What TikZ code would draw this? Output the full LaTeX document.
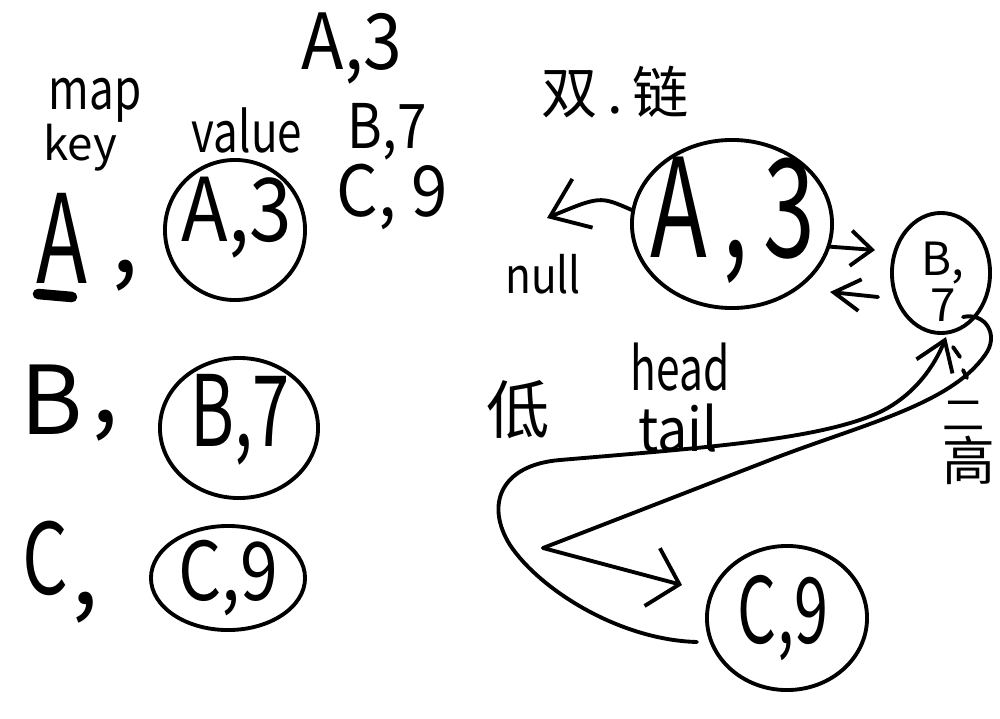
\documentclass[tikz,border=0pt]{standalone}
\usepackage{fontspec}
\setmainfont{Noto Sans CJK SC}
\usetikzlibrary{shapes.geometric,arrows.meta}
\newcommand\fsz[1]{\fontsize{#1}{#1}\selectfont}
\newcommand\sx[2]{\scalebox{#1}[1]{#2}}
\begin{document}
\begin{tikzpicture}[x=0.01cm,y=-0.01cm,line width=1.1pt,line cap=round,line join=round,
  t/.style={inner sep=0pt,font=\fsz{#1}},
  ring/.style={ellipse,draw,inner sep=0pt},
  barb/.style args={#1/#2}{-{Straight Barb[length=#1,width=#2]}}]
\useasboundingbox (0,0) rectangle (1000,718);
\fill[white] (0,0) rectangle (1000,718);

% ---------- left: map key / value ----------
\node[t=16] (map) at (95,100) {\sx{0.78}{map}};
\node[t=13] (key) at (80,148) {key};
\node[t=16] (value) at (247,130) {\sx{0.78}{value}};
\node[t=22] (top1) at (352,48) {\sx{0.9}{A,3}};
\node[t=17.5] (top2) at (387,132) {\sx{0.86}{B,7}};
\node[t=20] (top3) at (392,197) {\sx{0.93}{C, 9}};

\node[t=35] (kA) at (62,238) {\sx{0.68}{A}};
\draw[line width=3pt] (38,294) -- (72,297);
\node[t=28] (cA) at (125,276) {,};
\node[ring,minimum width=1.4cm,minimum height=1.4cm] (vA) at (235,230) {};
\node[t=25] (vAt) at (237,218) {\sx{0.87}{A,3}};

\node[t=27] (kB) at (52,400) {B};
\node[t=28] (cB) at (105,426) {,};
\node[ring,minimum width=1.58cm,minimum height=1.4cm] (vB) at (239,428) {};
\node[t=28] (vBt) at (240,420) {\sx{0.68}{B,7}};

\node[t=28] (kC) at (45,558) {\sx{0.73}{C}};
\node[t=28] (cC) at (85,608) {,};
\node[ring,minimum width=1.54cm,minimum height=1.04cm] (vC) at (228,578) {};
\node[t=23] (vCt) at (228,578) {\sx{0.84}{C,9}};

% ---------- right: double linked list ----------
\node[t=16] (dl) at (615,92) {双\,.\,链};

\node[ring,minimum width=2cm,minimum height=1.68cm] (rA) at (732,224) {};
\node[t=39] (rAt) at (733,220) {\sx{0.68}{A\,,\,3}};
\coordinate (nulltip) at (547,218);
\draw[barb=10pt/15pt] (rA.172) .. controls (600,196) .. (nulltip);
\node[t=14] (null) at (543,274) {\sx{0.86}{null}};

\node[ring,minimum width=0.98cm,minimum height=1.2cm] (rB) at (941,273) {};
\node[t=13,align=center] (rBt) at (943,282) {B,\\7};
\coordinate (abtip) at (875,250);
\draw[barb=6pt/10pt] (rA.-13) -- (abtip);
\coordinate (bastart) at (878,297);
\coordinate (batip) at (830,292);
\draw[barb=7.5pt/9pt] (bastart) -- (batip);

\node[ring,minimum width=1.6cm,minimum height=1.44cm] (rC) at (787,618) {};
\node[t=26] (rCt) at (783,618) {\sx{0.67}{C,9}};

\node[t=17] (head) at (680,367) {\sx{0.71}{head}};
\node[t=17] (tail) at (678,428) {\sx{0.9}{tail}};
\node[t=18] (low) at (518,410) {低};

% vertical note by B
\draw (953,347) -- (960,357);
\draw (963,370) -- (967,378);
\node[t=12] (two) at (964,416) {二};
\node[t=15] (high) at (969,460) {高};

% loop from C back to B
\coordinate (loopstart) at (697,642);
\coordinate (btip) at (946,337);
\draw[barb=8pt/11pt] (loopstart) .. controls (620,640) and (540,590) .. (510,545)
  .. controls (485,505) and (500,465) .. (560,460)
  .. controls (700,448) and (820,440) .. (880,412)
  .. controls (915,395) and (935,365) .. (btip);

% vertex: B down to corner, then to C
\coordinate (vx) at (543,548);
\coordinate (curl) at (963,317);
\draw (curl) .. controls (985,312) and (1000,335) .. (985,355)
  .. controls (950,405) and (860,425) .. (770,460) -- (vx);
\coordinate (ctip) at (682,585);
\draw[barb=8pt/17pt] (vx) -- (ctip);
\end{tikzpicture}
\end{document}
